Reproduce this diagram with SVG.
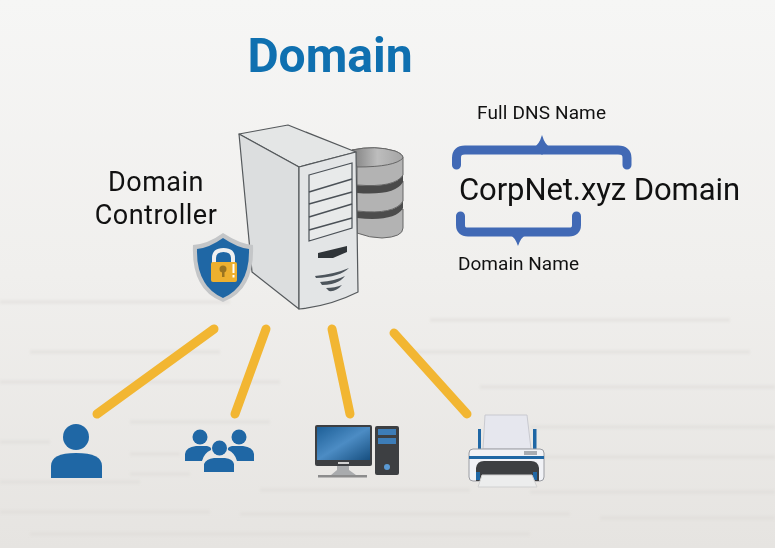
<svg xmlns="http://www.w3.org/2000/svg" width="775" height="548" viewBox="0 0 775 548">
<style>
text{font-family:Roboto,"Liberation Sans",sans-serif;fill:#111}
.lbl{font-size:19px}
.dc{font-size:27px;text-anchor:middle;letter-spacing:.5px}
.blue{fill:#1f67a5}
.edge{stroke:#f2b632;stroke-width:9;stroke-linecap:round;fill:none}
.brace{fill:none;stroke:#4169b5;stroke-width:9;stroke-linejoin:round;stroke-linecap:round}
.tip{fill:#4169b5}
.srv{stroke:#55595c;stroke-width:1.2;stroke-linejoin:round}
.disk{fill:#b3b3b3;stroke:#666;stroke-width:1}
.bar{fill:#dcdad6;opacity:.4}
</style>
<defs>
<linearGradient id="bg" x1="0" y1="0" x2="0" y2="1"><stop offset="0" stop-color="#f6f6f5"/><stop offset=".5" stop-color="#f0efed"/><stop offset="1" stop-color="#e6e4e1"/></linearGradient>
<linearGradient id="scr" x1="0" y1="0" x2="1" y2="1"><stop offset="0" stop-color="#1d5f97"/><stop offset=".5" stop-color="#4c8cc4"/><stop offset="1" stop-color="#174f80"/></linearGradient>
<linearGradient id="diskTop" x1="0" y1="0" x2="1" y2="0"><stop offset="0" stop-color="#808080"/><stop offset=".5" stop-color="#bdbdbd"/><stop offset="1" stop-color="#a5a5a5"/></linearGradient>
<filter id="soft"><feGaussianBlur stdDeviation="1.2"/></filter>
</defs>
<rect width="775" height="548" fill="url(#bg)"/>
<g id="background-bars" filter="url(#soft)">
<rect class="bar" x="0" y="300" width="230" height="4"/><rect class="bar" x="430" y="318" width="300" height="4"/>
<rect class="bar" x="30" y="350" width="190" height="4"/><rect class="bar" x="410" y="350" width="340" height="4"/>
<rect class="bar" x="0" y="380" width="280" height="4"/><rect class="bar" x="480" y="385" width="295" height="4"/>
<rect class="bar" x="130" y="420" width="140" height="4"/><rect class="bar" x="530" y="425" width="245" height="4"/>
<rect class="bar" x="0" y="440" width="50" height="4"/><rect class="bar" x="130" y="452" width="50" height="4"/><rect class="bar" x="540" y="455" width="235" height="4"/>
<rect class="bar" x="0" y="480" width="140" height="4"/><rect class="bar" x="130" y="472" width="60" height="4"/><rect class="bar" x="260" y="488" width="210" height="4"/><rect class="bar" x="530" y="490" width="245" height="4"/>
<rect class="bar" x="0" y="510" width="210" height="4"/><rect class="bar" x="240" y="512" width="330" height="4"/><rect class="bar" x="600" y="516" width="175" height="4"/>
<rect class="bar" x="30" y="532" width="500" height="4"/>
</g>
<text x="330" y="72" text-anchor="middle" font-size="48" font-weight="700" style="fill:#0f70b0">Domain</text>
<g id="connectors">
<line class="edge" x1="214" y1="329" x2="97" y2="414"/>
<line class="edge" x1="266" y1="329" x2="235" y2="414"/>
<line class="edge" x1="332" y1="329" x2="350" y2="414"/>
<line class="edge" x1="394" y1="333" x2="467" y2="414"/>
</g>
<g id="database">
<path class="disk" d="M357 216V233Q370 238 382 238Q403 237 403 228V209Z"/>
<path d="M357 211V218Q395 222 403 208V201Q395 215 357 211Z" fill="#4c4c4c"/>
<path class="disk" d="M357 187V211Q395 215 403 201V181Z"/>
<path d="M357 181V193Q395 196 403 182V175Q395 188 357 185Z" fill="#4a4a4a"/>
<path class="disk" d="M352 150Q375 145 395 151Q403 154 403 158V175Q395 188 357 185V155Z"/>
<path d="M352 150Q375 145 395 151Q403 154 403 158Q395 167 357 167Z" fill="url(#diskTop)" stroke="#666"/>
</g>
<g id="server">
<path class="srv" d="M239 134L288 125L356 152L299 167Z" fill="#e4e6e6"/>
<path class="srv" d="M239 134L299 167V309L252 272Z" fill="#dcdedf"/>
<path class="srv" d="M299 167L356 152L358 292Q330 306 299 309Z" fill="#e3e5e6"/>
<path d="M309 175L352 163V228L309 241Z" fill="#e8eaea" stroke="#4b5157" stroke-width="1.2"/>
<path d="M309 192L352 179M309 204L352 192M309 217L352 204M309 230L352 218" stroke="#4b5157" stroke-width="1.5" fill="none"/>
<path d="M318 253L347 246V252L333 258H318Z" fill="#2f3438"/>
<path d="M315 276Q335 274 349 268Q340 277 316 278Z" fill="#4d555c"/>
<path d="M320 282Q335 281 345 276Q338 285 322 285Z" fill="#4d555c"/>
<path d="M326 288Q335 288 342 285Q336 292 329 291Z" fill="#4d555c"/>
</g>
<g id="domain-controller">
<text class="dc" x="156" y="191">Domain</text>
<text class="dc" x="156" y="224">Controller</text>
</g>
<g id="shield">
<path d="M223 233Q240 244 253 245Q255 290 223 302Q191 290 193 245Q208 244 223 233Z" fill="#c4c6c8"/>
<path d="M223 238Q238 248 249 249Q250 286 223 298Q196 286 197 249Q209 248 223 238Z" fill="#1f67a5"/>
<path d="M214 264V258Q214 250 223.500 250Q233 250 233 258V264" fill="none" stroke="#f0f0f0" stroke-width="4"/>
<rect x="211" y="262" width="26" height="20" rx="2" fill="#edb02f"/>
<circle cx="223" cy="269" r="3.500" fill="#9a7420"/><rect x="222" y="270" width="2.500" height="7" fill="#9a7420"/>
<rect x="232.500" y="264" width="2" height="9" fill="#fff"/><rect x="232.500" y="275" width="2" height="2.500" fill="#fff"/>
</g>
<g id="dns-labels">
<text class="lbl" x="477" y="119" textLength="129">Full DNS Name</text>
<path class="brace" d="M456.500 165V158Q456.500 150 465 150H618Q627 150 627 158V165"/>
<path class="tip" d="M534 147Q539 145 542 135Q545 145 550 147V151Q545 151 542 155Q539 151 534 151Z"/>
<text x="459" y="200" font-size="31" textLength="281">CorpNet.xyz Domain</text>
<path class="brace" d="M460.500 216V225Q460.500 232 468 232H569Q576.500 232 576.500 225V216"/>
<path class="tip" d="M510 235Q515 237 518 246Q521 237 526 235V231Q521 231 518 228Q515 231 510 231Z"/>
<text class="lbl" x="458" y="270" textLength="121">Domain Name</text>
</g>
<g id="user">
<circle class="blue" cx="76" cy="437" r="13"/>
<path class="blue" d="M51 478V466Q51 453 76 453Q102 453 102 466V478Z"/>
</g>
<g id="group">
<path class="blue" d="M185 461V454Q186 447 196 446H207Q212 447 211 450Q204 453 202 461Z"/>
<path class="blue" d="M254 461V454Q253 447 243 446H232Q227 447 228 450Q235 453 237 461Z"/>
<circle class="blue" cx="200" cy="437" r="7.500"/><circle class="blue" cx="239" cy="437" r="7.500"/><circle class="blue" cx="219.500" cy="448" r="7.500"/>
<path class="blue" d="M204 472V464Q206 459 214 458H225Q233 459 234 464V472Z"/>
</g>
<g id="computer">
<rect x="315" y="425" width="57" height="41" rx="2" fill="#3d3f42"/>
<rect x="317" y="427" width="53" height="33" fill="url(#scr)"/>
<rect x="338" y="462" width="11" height="2" fill="#d0d0d0"/>
<path d="M337 466H349V470L356 475H331L337 470Z" fill="#a9abad"/>
<rect x="318" y="475" width="49" height="2.500" fill="#8c8c8c"/>
<rect x="375" y="426" width="24" height="49" rx="2" fill="#3d3f42"/>
<rect x="378" y="429" width="18" height="6" fill="#3d7db8"/><rect x="378" y="438" width="18" height="6" fill="#3d7db8"/>
<circle cx="387" cy="467" r="3" fill="#5a9ad4"/>
</g>
<g id="printer">
<rect x="478" y="429" width="3" height="21" fill="#1f67a5"/><rect x="533" y="429" width="3.500" height="21" fill="#1f67a5"/>
<path d="M485 415H527L531 449H483Z" fill="#e6e7ee" stroke="#c8c9cf"/>
<rect x="469" y="449" width="75" height="32" rx="4" fill="#f1f2f6" stroke="#9a9ca2"/>
<rect x="469" y="456" width="75" height="3" fill="#1f67a5"/>
<rect x="524" y="451" width="13" height="4" fill="#a8acb2"/>
<path d="M476 481V468Q477 461 484 461H531Q538 461 539 468V481Z" fill="#3d3f42"/>
<rect x="476" y="472" width="4" height="8" fill="#1f67a5"/><rect x="533" y="472" width="4" height="8" fill="#1f67a5"/>
<path d="M482 475H532L537 487H478Z" fill="#eceded" stroke="#d0d0d0"/>
</g>
</svg>
